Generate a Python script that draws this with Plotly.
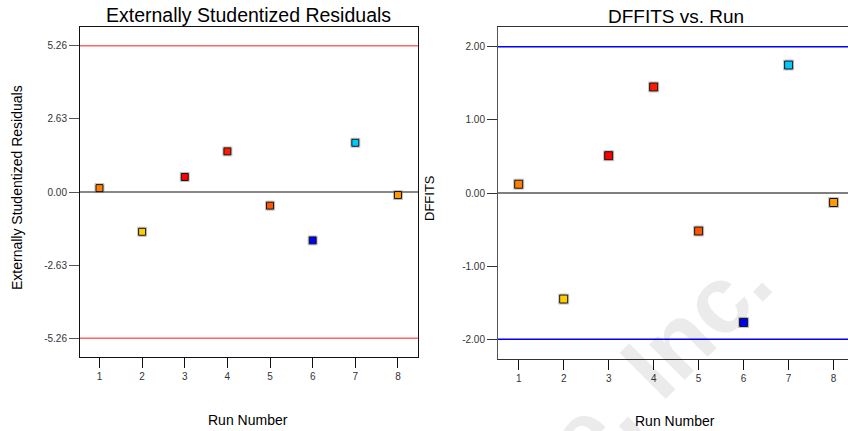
import plotly.graph_objects as go

# ---- data ----
runs = [1, 2, 3, 4, 5, 6, 7, 8]
ext_resid = [0.14, -1.43, 0.54, 1.46, -0.49, -1.74, 1.77, -0.11]
dffits = [0.12, -1.45, 0.51, 1.45, -0.52, -1.77, 1.75, -0.13]
point_colors = ["#FF7F00", "#FFCC00", "#FF0000", "#FF1A00", "#FF5500", "#0000FF", "#00C8FF", "#FF9900"]
resid_limit = 5.26
dffits_limit = 2.0
resid_ticks = [-5.26, -2.63, 0.0, 2.63, 5.26]
dffits_ticks = [-2.0, -1.0, 0.0, 1.0, 2.0]

W, H = 848, 431
def px(x):
    return x / W
def py(y):
    return 1 - y / H

fig = go.Figure()

# shadow + markers, left
fig.add_trace(go.Scatter(x=runs, y=ext_resid, mode="markers", xaxis="x", yaxis="y",
                         marker=dict(symbol="square", size=9, color="rgba(0,0,0,0)",
                                     line=dict(color="rgba(120,120,120,0.45)", width=1)),
                         hoverinfo="skip", showlegend=False))
fig.add_trace(go.Scatter(x=runs, y=ext_resid, mode="markers", xaxis="x", yaxis="y",
                         marker=dict(symbol="square", size=7, color=point_colors,
                                     line=dict(color="#111111", width=1)),
                         showlegend=False))
# right
fig.add_trace(go.Scatter(x=runs, y=dffits, mode="markers", xaxis="x2", yaxis="y2",
                         marker=dict(symbol="square", size=10, color="rgba(0,0,0,0)",
                                     line=dict(color="rgba(120,120,120,0.45)", width=1)),
                         hoverinfo="skip", showlegend=False))
fig.add_trace(go.Scatter(x=runs, y=dffits, mode="markers", xaxis="x2", yaxis="y2",
                         marker=dict(symbol="square", size=8, color=point_colors,
                                     line=dict(color="#111111", width=1)),
                         showlegend=False))

shapes = []
# left panel reference lines
for v in (resid_limit, -resid_limit):
    shapes.append(dict(type="line", xref="x domain", yref="y", x0=0, x1=1, y0=v, y1=v,
                       line=dict(color="#FF6666", width=1.5), layer="below"))
shapes.append(dict(type="line", xref="x domain", yref="y", x0=0, x1=1, y0=0, y1=0,
                   line=dict(color="#111111", width=1.2), layer="below"))
# right panel reference lines
for v in (dffits_limit, -dffits_limit):
    shapes.append(dict(type="line", xref="x2 domain", yref="y2", x0=0, x1=1, y0=v, y1=v,
                       line=dict(color="#0000FF", width=1.3), layer="below"))
shapes.append(dict(type="line", xref="x2 domain", yref="y2", x0=0, x1=1, y0=0, y1=0,
                   line=dict(color="#555555", width=1.5), layer="below"))

tickfont = dict(family="Liberation Sans, Arial, sans-serif", size=10, color="#333333")
font_main = "Liberation Sans, Arial, sans-serif"

annotations = [
    dict(text="Externally Studentized Residuals", x=px(248), y=py(15), xref="paper", yref="paper",
         showarrow=False, font=dict(family=font_main, size=19.5, color="#000000"),
         xanchor="center", yanchor="middle"),
    dict(text="DFFITS vs. Run", x=px(676), y=py(16), xref="paper", yref="paper",
         showarrow=False, font=dict(family=font_main, size=19, color="#000000"),
         xanchor="center", yanchor="middle"),
    dict(text="Run Number", x=px(248), y=py(420), xref="paper", yref="paper",
         showarrow=False, font=dict(family=font_main, size=14, color="#000000"),
         xanchor="center", yanchor="middle"),
    dict(text="Run Number", x=px(675), y=py(421), xref="paper", yref="paper",
         showarrow=False, font=dict(family=font_main, size=14, color="#000000"),
         xanchor="center", yanchor="middle"),
    dict(text="Externally Studentized Residuals", x=px(17), y=py(188), xref="paper", yref="paper",
         showarrow=False, textangle=-90, font=dict(family=font_main, size=14, color="#000000"),
         xanchor="center", yanchor="middle"),
    dict(text="DFFITS", x=px(430), y=py(198), xref="paper", yref="paper",
         showarrow=False, textangle=-90, font=dict(family=font_main, size=13, color="#000000"),
         xanchor="center", yanchor="middle"),
    # watermark
    dict(text="<b>e, Inc.</b>", x=px(658), y=py(360), xref="paper", yref="paper",
         showarrow=False, textangle=-45, font=dict(family=font_main, size=95, color="rgba(0,0,0,0.08)"),
         xanchor="center", yanchor="middle"),
]

fig.update_layout(
    width=W, height=H,
    margin=dict(l=0, r=0, t=0, b=0),
    paper_bgcolor="white", plot_bgcolor="white",
    showlegend=False,
    shapes=shapes,
    annotations=annotations,
    xaxis=dict(domain=[px(80), px(418)], range=[0.543, 8.47], tickvals=runs,
               ticktext=[str(r) for r in runs], ticks="outside", ticklen=10, tickcolor="#111111",
               showline=True, mirror=True, linecolor="#111111", linewidth=1,
               showgrid=False, zeroline=False, tickfont=tickfont, anchor="y"),
    yaxis=dict(domain=[py(357), py(27)], range=[-5.93, 5.93], tickvals=resid_ticks,
               ticktext=["%.2f" % t for t in resid_ticks], ticks="outside", ticklen=10,
               tickcolor="#555555", showline=True, mirror=True, linecolor="#111111", linewidth=1,
               showgrid=False, zeroline=False, tickfont=tickfont, anchor="x"),
    xaxis2=dict(domain=[px(498), 1.0], range=[0.54, 8.32], tickvals=runs,
                ticktext=[str(r) for r in runs], ticks="outside", ticklen=10, tickcolor="#111111",
                showline=True, mirror=True, linecolor="#333333", linewidth=1,
                showgrid=False, zeroline=False, tickfont=tickfont, anchor="y2"),
    yaxis2=dict(domain=[py(359), py(27)], range=[-2.27, 2.27], tickvals=dffits_ticks,
                ticktext=["%.2f" % t for t in dffits_ticks], ticks="outside", ticklen=10,
                tickcolor="#333333", showline=True, mirror=True, linecolor="#555555", linewidth=1,
                showgrid=False, zeroline=False, tickfont=tickfont, anchor="x2"),
)

fig.write_html("out.html", config={"displayModeBar": False},
               post_script="document.body.style.margin='0';document.body.style.padding='0';")
